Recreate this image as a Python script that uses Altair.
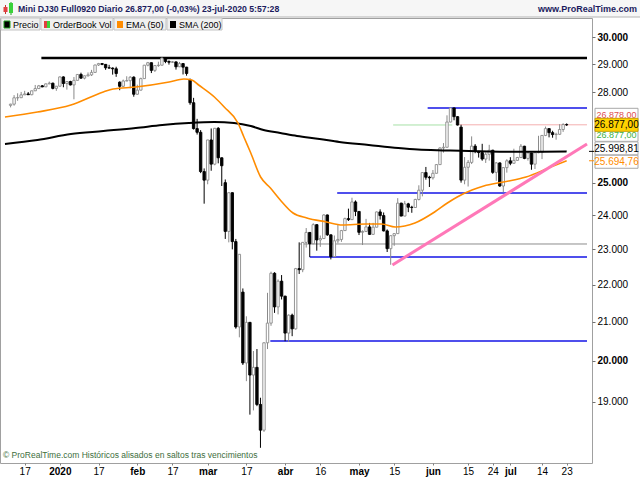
import altair as alt
import pandas as pd

FONT = "Liberation Sans"

# ---------------- data ----------------
dates = [
    "2019-12-11", "2019-12-12", "2019-12-13", "2019-12-16", "2019-12-17", "2019-12-18", "2019-12-19",
    "2019-12-20", "2019-12-23", "2019-12-24", "2019-12-26", "2019-12-27", "2019-12-30", "2019-12-31",
    "2020-01-02", "2020-01-03", "2020-01-06", "2020-01-07", "2020-01-08", "2020-01-09", "2020-01-10",
    "2020-01-13", "2020-01-14", "2020-01-15", "2020-01-16", "2020-01-17", "2020-01-20", "2020-01-21",
    "2020-01-22", "2020-01-23", "2020-01-24", "2020-01-27", "2020-01-28", "2020-01-29", "2020-01-30",
    "2020-01-31",
    "2020-02-03", "2020-02-04", "2020-02-05", "2020-02-06", "2020-02-07", "2020-02-10", "2020-02-11",
    "2020-02-12", "2020-02-13", "2020-02-14", "2020-02-17", "2020-02-18", "2020-02-19", "2020-02-20",
    "2020-02-21", "2020-02-24", "2020-02-25", "2020-02-26", "2020-02-27", "2020-02-28",
    "2020-03-02", "2020-03-03", "2020-03-04", "2020-03-05", "2020-03-06", "2020-03-09", "2020-03-10",
    "2020-03-11", "2020-03-12", "2020-03-13", "2020-03-16", "2020-03-17", "2020-03-18", "2020-03-19",
    "2020-03-20", "2020-03-23", "2020-03-24", "2020-03-25", "2020-03-26", "2020-03-27", "2020-03-30",
    "2020-03-31",
    "2020-04-01", "2020-04-02", "2020-04-03", "2020-04-06", "2020-04-07", "2020-04-08", "2020-04-09",
    "2020-04-13", "2020-04-14", "2020-04-15", "2020-04-16", "2020-04-17", "2020-04-20", "2020-04-21",
    "2020-04-22", "2020-04-23", "2020-04-24", "2020-04-27", "2020-04-28", "2020-04-29", "2020-04-30",
    "2020-05-01", "2020-05-04", "2020-05-05", "2020-05-06", "2020-05-07", "2020-05-08", "2020-05-11",
    "2020-05-12", "2020-05-13", "2020-05-14", "2020-05-15", "2020-05-18", "2020-05-19", "2020-05-20",
    "2020-05-21", "2020-05-22", "2020-05-25", "2020-05-26", "2020-05-27", "2020-05-28", "2020-05-29",
    "2020-06-01", "2020-06-02", "2020-06-03", "2020-06-04", "2020-06-05", "2020-06-08", "2020-06-09",
    "2020-06-10", "2020-06-11", "2020-06-12", "2020-06-15", "2020-06-16", "2020-06-17", "2020-06-18",
    "2020-06-19", "2020-06-22", "2020-06-23", "2020-06-24", "2020-06-25", "2020-06-26", "2020-06-29",
    "2020-06-30",
    "2020-07-01", "2020-07-02", "2020-07-03", "2020-07-06", "2020-07-07", "2020-07-08", "2020-07-09",
    "2020-07-10", "2020-07-13", "2020-07-14", "2020-07-15", "2020-07-16", "2020-07-17", "2020-07-20",
    "2020-07-21", "2020-07-22", "2020-07-23",
]

opens = [
    27540, 27581, 27802, 27805, 27905, 27937, 27909, 28046, 28125, 28221, 28185, 28291, 28315, 28132,
    28208, 28538, 28304, 28373, 28253, 28415, 28626, 28494, 28577, 28610, 28700, 28967, 29018, 28990,
    28866, 28856, 28830, 28350, 28205, 28393, 28404, 28529,
    27926, 28070, 28477, 28960, 29050, 28773, 28946, 28960, 29221, 29094, 29068, 29080, 28902, 29018,
    28889, 28430, 27631, 26751, 26627, 25350,
    25079, 26373, 25587, 26761, 25791, 25000, 23521, 24688, 23223, 20870, 21800, 19950, 20990, 19650,
    19840, 18940, 18340, 20460, 20970, 22320, 21400, 22100,
    21690, 20710, 21180, 20820, 22450, 22420, 23200, 23490, 23160, 23720, 23270, 23310, 24010, 23420,
    22790, 23245, 23285, 23545, 23900, 23870, 24404,
    24116, 23494, 23520, 23653, 23434, 23645, 24101, 23991, 23535, 23018, 23395, 23455, 24367, 23977,
    24346, 24244, 24235, 24480, 24765, 25318, 25171,
    25153, 25295, 25572, 26110, 26132, 26971, 27452, 27153, 26800, 25080, 25486, 25643, 26170, 26000,
    25960, 25751, 25905, 26036, 25325, 25626, 24896, 25475,
    25693, 25615, 25707, 25800, 26167, 25770, 25947, 25586, 25955, 25966, 26523, 26750, 26615, 26552,
    26561, 26720, 26886,
]

highs = [
    27595, 27894, 27960, 28007, 28046, 28003, 28050, 28252, 28252, 28250, 28300, 28371, 28334, 28217,
    28550, 28560, 28385, 28400, 28536, 28635, 28690, 28585, 28699, 28791, 28975, 29043, 29040, 29000,
    28973, 28880, 28904, 28380, 28444, 28562, 28562, 28560,
    28262, 28511, 28970, 29079, 29060, 28947, 29086, 29238, 29230, 29135, 29110, 29090, 29077, 29040,
    28900, 28480, 27800, 27079, 26700, 25450,
    26376, 26755, 26772, 26800, 25800, 25100, 24690, 24700, 23300, 22860, 21900, 21150, 21000, 20250,
    20300, 19100, 20470, 21780, 22365, 22350, 22150, 22270,
    21700, 21200, 21220, 22470, 23200, 23210, 23620, 23500, 23760, 23730, 23400, 24030, 24020, 23430,
    23400, 23740, 23565, 23930, 24200, 24534, 24450,
    24120, 23551, 23892, 23772, 23774, 24111, 24180, 24085, 23580, 23402, 23460, 24520, 24380, 24437,
    24377, 24287, 24500, 24918, 25327, 25497, 25215,
    25400, 25583, 26130, 26271, 27198, 27460, 27455, 27168, 26880, 25813, 25718, 26491, 26236, 26012,
    26246, 25968, 26213, 26050, 25655, 25640, 25481, 25746,
    25810, 26085, 25820, 26237, 26180, 25952, 25953, 25960, 26511, 26536, 26818, 26760, 26678, 26612,
    26899, 26930, 26925,
]

lows = [
    27471, 27529, 27698, 27800, 27900, 27903, 27891, 28040, 28120, 28173, 28180, 28278, 28098, 28046,
    28200, 28171, 28088, 28235, 27750, 28410, 28470, 28452, 28553, 28570, 28690, 28931, 28960, 28792,
    28842, 28620, 28541, 28067, 28180, 28391, 28129, 27839,
    27900, 28060, 28470, 28919, 28676, 28714, 28899, 28950, 29033, 28981, 29040, 28800, 28895, 28626,
    28581, 27560, 26718, 26552, 25300, 24351,
    24950, 25376, 25550, 25613, 24896, 23300, 23200, 22998, 20824, 20600, 19900, 19500, 18700, 18800,
    18900, 17940, 18300, 20300, 20900, 21240, 21200, 21600,
    20500, 20480, 20630, 20800, 22300, 22350, 23050, 22780, 23150, 22960, 23070, 23300, 23390, 22711,
    22780, 23170, 23215, 23540, 23830, 23860, 23975,
    23414, 23123, 23500, 23420, 23420, 23640, 23871, 23520, 22922, 22559, 23100, 23450, 23972, 23970,
    24095, 24075, 24230, 24450, 24576, 25094, 24865,
    25097, 25290, 25570, 25958, 26130, 26960, 27030, 26855, 25000, 24950, 24880, 25590, 25939, 25797,
    25697, 25625, 25700, 25279, 25058, 24870, 24700, 25316,
    25552, 25600, 25690, 25780, 25745, 25700, 25407, 25431, 25939, 25749, 26500, 26459, 26447, 26381,
    26540, 26640, 26840,
]

closes = [
    27581, 27802, 27805, 27905, 27937, 27909, 28046, 28125, 28221, 28185, 28291, 28315, 28132, 28208,
    28538, 28304, 28373, 28253, 28415, 28626, 28494, 28577, 28610, 28700, 28967, 29018, 28990, 28866,
    28856, 28830, 28660, 28205, 28393, 28404, 28529, 27926,
    28070, 28477, 28960, 29050, 28773, 28946, 28960, 29221, 29094, 29068, 29080, 28902, 29018, 28889,
    28662, 27631, 26751, 26627, 25350, 25079,
    26373, 25587, 26761, 25791, 25535, 23521, 24688, 23223, 20870, 22856, 19950, 20990, 19650, 19840,
    18940, 18340, 20460, 20970, 22320, 21400, 22100, 21690,
    20710, 21180, 20820, 22450, 22420, 23200, 23490, 23160, 23720, 23270, 23310, 24010, 23420, 22790,
    23245, 23285, 23545, 23900, 23870, 24404, 24116,
    23494, 23520, 23653, 23434, 23645, 24101, 23991, 23535, 23018, 23395, 23455, 24367, 23977, 24346,
    24244, 24235, 24480, 24765, 25318, 25171, 25153,
    25295, 25572, 26110, 26132, 26971, 27452, 27153, 26870, 25080, 25486, 25643, 26170, 26000, 25960,
    25751, 25905, 26036, 25325, 25626, 24896, 25475, 25693,
    25615, 25707, 25800, 26167, 25770, 25947, 25586, 25955, 25966, 26523, 26750, 26615, 26552, 26561,
    26720, 26886, 26877,
]

# moving averages (trading-day number, value)
ema_day = [-5.59, 3.63, 13.13, 22.35, 25.14, 31.56, 41.06, 45.25, 47.49, 49.44, 53.91, 56.70, 60.61,
           62.29, 64.25, 67.04, 69.83, 72.63, 76.26, 80.17, 85.75, 90.22, 96.93, 101.40, 105.31,
           110.89, 116.48, 120.11, 122.91, 127.09, 130.45, 136.03, 142.46, 148.88, 154.0]
ema_val = [27142, 27312, 27552, 28004, 28110, 28180, 28357, 28464, 28428, 28251, 27830, 27484, 26939,
           26471, 25946, 25178, 24834, 24464, 24069, 23919, 23800, 23711, 23740, 23740, 23651,
           23770, 24099, 24372, 24556, 24772, 24896, 25021, 25178, 25464, 25694.76]

sma_day = [-5.59, 3.63, 13.13, 22.35, 31.56, 39.11, 46.65, 53.91, 59.50, 64.25, 67.88, 72.63, 77.37,
           83.80, 89.39, 97.77, 106.15, 111.73, 117.32, 123.74, 128.49, 134.92, 142.46, 147.21, 154.0]
sma_val = [26240, 26372, 26570, 26670, 26771, 26871, 26939, 26972, 26939, 26838, 26704, 26604, 26504,
           26405, 26306, 26207, 26109, 26060, 26035, 26020, 26005, 25990, 25985, 25990, 25998.81]

# drawn lines (price level, first trading day)
top_level = [29222]
top_from = [4.75]
blue_levels = [27449, 24677, 22779, 20506]
blue_from = [114.5, 88.8, 81.0, 69.8]
gray_level = [23153]
gray_from = [78.2]
bid_level = [26872]
bid_from, bid_to = [104.7], [121.5]
ask_level = [26878]
ask_from = [123.5]
trend_day = [104.5, 159.78]
trend_val = [22553, 26240]

tick_days = [0, 10, 21, 32, 42, 52, 63, 74, 84, 95, 105, 116, 126, 133, 138, 147, 154]
tick_text = ["17", "2020", "17", "feb", "17", "mar", "17", "abr", "16", "may", "15", "jun",
             "15", "24", "jul", "14", "23"]
bold_text = ["2020", "feb", "mar", "abr", "may", "jun", "jul"]
price_ticks = [19000, 20000, 21000, 22000, 23000, 24000, 25000, 28000, 29000, 30000]

# ---------------- tables ----------------
n = len(dates)
candles = pd.DataFrame({
    "date": dates, "day": list(range(-4, n - 4)),
    "open": opens, "high": highs, "low": lows, "close": closes,
})
candles["dir"] = ["up" if c >= o else "down" for o, c in zip(opens, closes)]

XMIN, XMAX = -5.587, 159.78
YMIN, YMAX = 17602, 30722
xs = alt.Scale(domain=[XMIN, XMAX], nice=False, zero=False)
ys = alt.Scale(type="log", domain=[YMIN, YMAX], nice=False)

bold_days = [d for d, t in zip(tick_days, tick_text) if t in bold_text]
label_expr = ("[" + ",".join("'%s'" % t for t in tick_text) + "][indexof(["
              + ",".join(str(d) for d in tick_days) + "], datum.value)]")

xaxis = alt.Axis(
    values=tick_days, labelExpr=label_expr, title=None, grid=False, domain=False,
    tickSize=2, tickColor="#808080", labelPadding=1, labelFont=FONT, labelFontSize=10,
    labelColor="#000000", labelOverlap=False, labelFlush=False,
    labelFontWeight={"condition": {"test": "indexof([%s], datum.value) >= 0" % ",".join(map(str, bold_days)),
                                   "value": "bold"}, "value": "normal"},
)
yaxis = alt.Axis(
    orient="right", values=price_ticks, labelExpr="replace(format(datum.value, ','), ',', '.')",
    title=None, grid=False, domain=False, tickSize=3, tickColor="#707070", labelPadding=2,
    labelFont=FONT, labelFontSize=10, labelColor="#000000", labelOverlap=False, labelFlush=False,
    labelFontWeight={"condition": {"test": "datum.value % 5000 === 0", "value": "bold"},
                     "value": "normal"},
)


def X(f):
    return alt.X(f + ":Q", scale=xs, axis=xaxis)


def Y(f):
    return alt.Y(f + ":Q", scale=ys, axis=yaxis)


def hlines(vals, starts, ends, color, width):
    d = pd.DataFrame({"v": vals, "a": starts, "b": ends})
    return alt.Chart(d).mark_rule(color=color, strokeWidth=width).encode(
        x=X("a"), x2="b", y=Y("v"))


layers = []
layers.append(hlines(gray_level, gray_from, [XMAX], "#8c8c8c", 1))
layers.append(hlines(bid_level, bid_from, bid_to, "#a6e0a6", 1))
layers.append(hlines(ask_level, ask_from, [XMAX], "#f4b0b0", 1))
layers.append(hlines(blue_levels, blue_from, [XMAX] * len(blue_levels), "#1414e6", 1.5))
layers.append(hlines(top_level, top_from, [XMAX], "#000000", 2.5))

dir_scale_line = alt.Scale(domain=["up", "down"], range=["#8a8a8a", "#000000"])
dir_scale_fill = alt.Scale(domain=["up", "down"], range=["#ffffff", "#000000"])
layers.append(alt.Chart(candles).mark_rule(strokeWidth=1).encode(
    x=X("day"), y=Y("low"), y2="high",
    color=alt.Color("dir:N", scale=dir_scale_line, legend=None)))
layers.append(alt.Chart(candles).mark_bar(width=2.4, strokeWidth=0.9).encode(
    x=X("day"), y=Y("open"), y2="close",
    fill=alt.Fill("dir:N", scale=dir_scale_fill, legend=None),
    stroke=alt.Stroke("dir:N", scale=dir_scale_line, legend=None)))

sma_df = pd.DataFrame({"day": sma_day, "v": sma_val})
ema_df = pd.DataFrame({"day": ema_day, "v": ema_val})
layers.append(alt.Chart(sma_df).mark_line(color="#000000", strokeWidth=2, interpolate="monotone").encode(
    x=X("day"), y=Y("v")))
layers.append(alt.Chart(ema_df).mark_line(color="#ff8c00", strokeWidth=1.6, interpolate="monotone").encode(
    x=X("day"), y=Y("v")))
trend_df = pd.DataFrame({"day": trend_day, "v": trend_val})
layers.append(alt.Chart(trend_df).mark_line(color="#ff78b8", strokeWidth=3).encode(
    x=X("day"), y=Y("v")))

one = pd.DataFrame({"k": [0]})


def box(x1, x2, y1, y2, fill, stroke=None):
    kw = {"fill": fill}
    if stroke:
        kw["stroke"] = stroke
        kw["strokeWidth"] = 1
    return alt.Chart(one).mark_rect(**kw).encode(
        x=alt.value(x1), x2=alt.value(x2), y=alt.value(y1), y2=alt.value(y2))


def label(txt, x, y, size=9, color="#000000", weight="normal", align="left"):
    return alt.Chart(pd.DataFrame({"t": [txt]})).mark_text(
        font=FONT, fontSize=size, color=color, fontWeight=weight, align=align,
        baseline="middle").encode(x=alt.value(x), y=alt.value(y), text="t:N")


def tag(price, txt, dy, fill, tcolor, stroke="#a8a8a8", size=10):
    d = pd.DataFrame({"v": [price], "t": [txt]})
    r = alt.Chart(d).mark_rect(fill=fill, stroke=stroke, strokeWidth=1,
                               yOffset=dy - 6.5, y2Offset=dy + 6.5).encode(
        x=alt.value(595), x2=alt.value(638), y=Y("v"), y2="v")
    t = alt.Chart(d).mark_text(font=FONT, fontSize=size, color=tcolor, align="center",
                               baseline="middle", dy=dy + 0.5).encode(
        x=alt.value(616.5), y=Y("v"), text="t:N")
    return [r, t]


# price tags on the right scale
layers += tag(26878, "26.878,00", -10, "#ffffff", "#e05050", size=9)
layers += tag(26877, "26.877,00", 10, "#ffffff", "#40b040", size=9)
layers += tag(26877, "26.877,00", 0, "#ffd200", "#000000", "#c8a000")
layers += tag(25998.81, "25.998,81", -3, "#ffffff", "#000000")
layers += tag(25694.76, "25.694,76", 1, "#ffffff", "#ff8c00")
mark_df = pd.DataFrame({"v": [25998.81]})
layers.append(alt.Chart(mark_df).mark_rule(color="#000000", strokeWidth=1).encode(
    x=alt.value(589), x2=alt.value(594), y=Y("v")))
mark_df2 = pd.DataFrame({"v": [25694.76]})
layers.append(alt.Chart(mark_df2).mark_rule(color="#ff8c00", strokeWidth=1).encode(
    x=alt.value(589), x2=alt.value(594), y=Y("v")))

# header band
layers.append(box(0, 640, -18, -1, "#f6f6f6"))
layers.append(alt.Chart(one).mark_rule(color="#b4b4b4").encode(
    x=alt.value(0), x2=alt.value(640), y=alt.value(-1)))
# title icon
layers.append(alt.Chart(one).mark_rule(color="#c03030").encode(x=alt.value(5.5), y=alt.value(-13), y2=alt.value(-4)))
layers.append(box(3.5, 7.5, -11, -6, "#e04040"))
layers.append(alt.Chart(one).mark_rule(color="#20a020").encode(x=alt.value(11), y=alt.value(-16), y2=alt.value(-3)))
layers.append(box(9, 13, -15, -5, "#3ad23a"))
layers.append(label("Mini DJ30 Full0920 Diario 26.877,00 (-0,03%) 23-jul-2020 5:57:28", 18, -9,
                    size=8.7, color="#1b1b5e", weight="bold"))
layers.append(label("www.ProRealTime.com", 637, -9, size=9, color="#1b1b5e", weight="bold", align="right"))

# legend strip
for x1, x2 in [(1, 40), (41, 113), (114, 166), (167, 222)]:
    layers.append(box(x1, x2, 0, 12, "#f0f0f0", "#c4c4c4"))
layers.append(box(4, 10, 3, 10, "#000000", "#20a020"))
layers.append(box(44, 47, 3, 10, "#e04040"))
layers.append(box(47, 50, 3, 10, "#3ad23a"))
layers.append(box(117, 123, 3, 10, "#ff8c00"))
layers.append(box(170, 176, 3, 10, "#000000"))
layers.append(label("Precio", 13, 6.5))
layers.append(label("OrderBook Vol", 53, 6.5))
layers.append(label("EMA (50)", 126, 6.5))
layers.append(label("SMA (200)", 179, 6.5))

# footer note
layers.append(label("\u00a9 ProRealTime.com  Hist\u00f3ricos alisados en saltos tras vencimientos", 3, 437,
                    size=8.5, color="#3c6e3c"))

chart = alt.layer(*layers).properties(
    width=592, height=445,
    padding={"left": 0, "top": 18, "right": 48, "bottom": 17},
    autosize=alt.AutoSizeParams(type="none"),
    background="#ffffff",
).configure_view(stroke="#a0a0a0", strokeWidth=1)

chart.save("out.html", embed_options={"renderer": "svg", "actions": False})
